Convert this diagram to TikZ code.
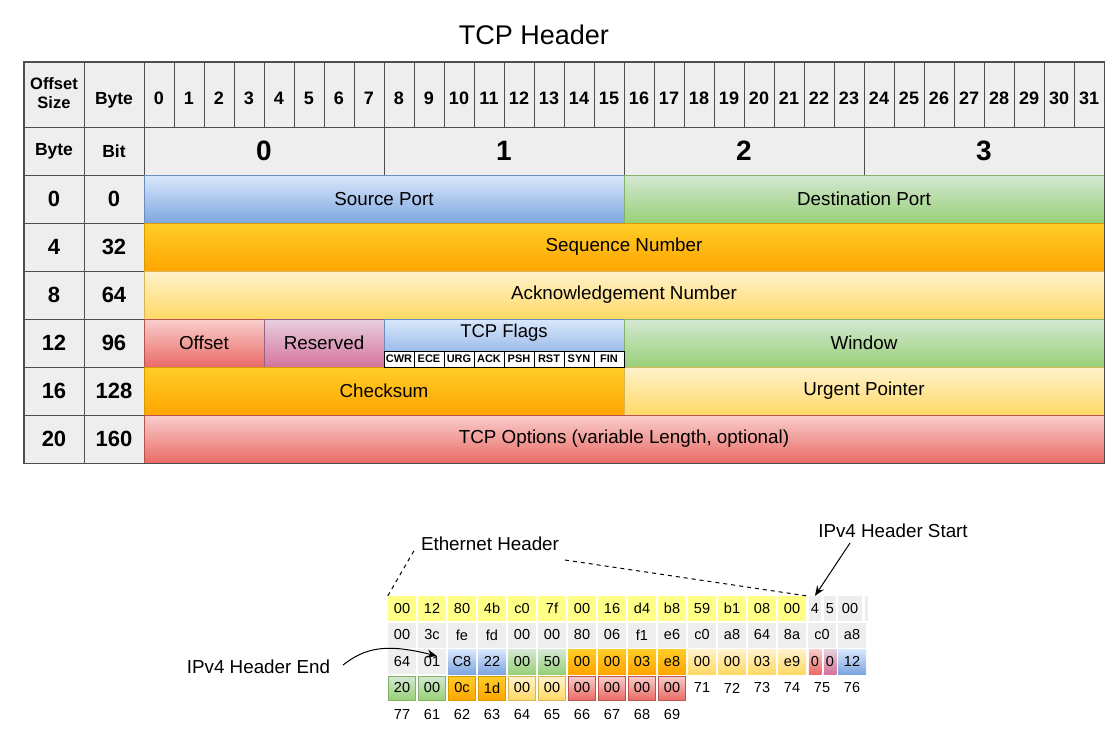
\documentclass[tikz,border=0pt]{standalone}
\usepackage{fontspec}
\setmainfont{Liberation Sans}
\usetikzlibrary{arrows.meta}
\definecolor{hdrg}{HTML}{EEEEEE}
\definecolor{lineg}{HTML}{4D4D4D}
\definecolor{blueT}{HTML}{DAE8FC}\definecolor{blueB}{HTML}{7EA6E0}\definecolor{blueL}{HTML}{6C8EBF}
\definecolor{greenT}{HTML}{D5E8D4}\definecolor{greenB}{HTML}{97D077}\definecolor{greenL}{HTML}{82B366}
\definecolor{orT}{HTML}{FFCD28}\definecolor{orB}{HTML}{FFA500}\definecolor{orL}{HTML}{D79B00}
\definecolor{ylT}{HTML}{FFF2CC}\definecolor{ylB}{HTML}{FFD966}\definecolor{ylL}{HTML}{D6B656}
\definecolor{rdT}{HTML}{F8CECC}\definecolor{rdB}{HTML}{EA6B66}\definecolor{rdL}{HTML}{B85450}
\definecolor{pkT}{HTML}{E6D0DE}\definecolor{pkB}{HTML}{D5739D}\definecolor{pkL}{HTML}{996185}
\definecolor{hexy}{HTML}{FFFF88}
\newcommand\cellbox[7]{\node[#2, minimum width={(#5)-(#3)}, minimum height={(#6)-(#4)}] (#1) at ({((#3)+(#5))/2},{((#4)+(#6))/2}) {#7};}
\newcommand\hexc[5]{\node[hx,#2] (#1) at ({402+30*(#3)},{608.5+26.5*((#4)-1)}) {#5};}
\begin{document}
\begin{tikzpicture}[x=1pt,y=-1pt,
  hdr/.style={draw=lineg, fill=hdrg, line width=0.9pt, inner sep=0pt, font=\bfseries\fontsize{17.5}{20}\selectfont},
  toprow/.style={text height=19pt, text depth=0pt},
  bitn/.style={hdr, toprow, font=\bfseries\fontsize{18}{20}\selectfont},
  bign/.style={hdr, font=\bfseries\fontsize{28}{30}\selectfont},
  rowl/.style={hdr, font=\bfseries\fontsize{22}{26}\selectfont},
  fld/.style={line width=1pt, inner sep=0pt, font=\fontsize{18.8}{22}\selectfont},
  fblue/.style={fld, draw=blueL, top color=blueT, bottom color=blueB},
  fgreen/.style={fld, draw=greenL, top color=greenT, bottom color=greenB},
  forange/.style={fld, draw=orL, top color=orT, bottom color=orB},
  fyel/.style={fld, draw=ylL, top color=ylT, bottom color=ylB},
  fred/.style={fld, draw=rdL, top color=rdT, bottom color=rdB},
  fpink/.style={fld, draw=pkL, top color=pkT, bottom color=pkB},
  flag/.style={draw=black, fill=white, line width=1pt, inner sep=0pt, minimum width=30, minimum height=16, font=\bfseries\fontsize{11}{12}\selectfont},
  hx/.style={inner sep=0pt, minimum width=28, minimum height=25, font=\fontsize{14.5}{16}\selectfont},
  hgray/.style={fill=hdrg}, hyel/.style={fill=hexy},
  hblue/.style={top color=blueT, bottom color=blueB},
  hgreen/.style={top color=greenT, bottom color=greenB},
  horange/.style={top color=orT, bottom color=orB},
  hyl/.style={top color=ylT, bottom color=ylB},
  hred/.style={top color=rdT, bottom color=rdB},
  hpink/.style={top color=pkT, bottom color=pkB},
  bgreen/.style={hgreen, draw=greenL, minimum width=27, minimum height=24},
  borange/.style={horange, draw=orL, minimum width=27, minimum height=24},
  byl/.style={hyl, draw=ylL, minimum width=27, minimum height=24},
  bred/.style={hred, draw=rdL, minimum width=27, minimum height=24},
  lbl/.style={inner sep=0pt, font=\fontsize{18.8}{21}\selectfont},
  ethdash/.style={line width=1pt, dash pattern=on 4pt off 4pt},
  ptr/.style={line width=1pt, -{Stealth[length=10pt,width=8pt]}}
]
\useasboundingbox (0,0) rectangle (1114,736);
\node[inner sep=0pt, font=\fontsize{27}{30}\selectfont] (title) at (534,35) {TCP Header};
% header row
\cellbox{os}{hdr, font=\bfseries\fontsize{16.5}{20}\selectfont}{24}{62}{84}{127}{\raisebox{-3pt}{\begin{tabular}{@{}c@{}}Offset\\[-1pt]Size\end{tabular}}}
\cellbox{byteh}{hdr, toprow}{84}{62}{144}{127}{Byte}
\foreach \i in {0,...,31}{\cellbox{b\i}{bitn}{144+30*\i}{62}{174+30*\i}{127}{\i}}
% second row
\cellbox{byte}{hdr}{24}{127}{84}{175}{Byte}
\cellbox{bit}{hdr}{84}{127}{144}{175}{Bit}
\foreach \i in {0,...,3}{\cellbox{B\i}{bign}{144+240*\i}{127}{384+240*\i}{175}{\i}}
% row labels
\foreach \r/\a/\b in {0/0/0,1/4/32,2/8/64,3/12/96,4/16/128,5/20/160}{
  \cellbox{ra\r}{rowl}{24}{175+48*\r}{84}{223+48*\r}{\a}
  \cellbox{rb\r}{rowl}{84}{175+48*\r}{144}{223+48*\r}{\b}}
% fields
\cellbox{src}{fblue}{144}{175}{624}{223}{Source Port}
\cellbox{dst}{fgreen}{624}{175}{1104}{223}{Destination Port}
\cellbox{seq}{forange}{144}{223}{1104}{271}{Sequence Number}
\cellbox{ack}{fyel}{144}{271}{1104}{319}{Acknowledgement Number}
\cellbox{off}{fred}{144}{319}{264}{367}{Offset}
\cellbox{res}{fpink}{264}{319}{384}{367}{Reserved}
\cellbox{flags}{fblue}{384}{319}{624}{367}{}
\cellbox{win}{fgreen}{624}{319}{1104}{367}{Window}
\cellbox{chk}{forange}{144}{367}{624}{415}{Checksum}
\cellbox{urg}{fyel}{624}{367}{1104}{415}{Urgent Pointer}
\cellbox{opt}{fred}{144}{415}{1104}{463}{TCP Options (variable Length, optional)}
\node[inner sep=0pt, font=\fontsize{18.5}{21}\selectfont] (flagslbl) at (504,333) {TCP Flags};
\foreach \k/\f in {0/CWR,1/ECE,2/URG,3/ACK,4/PSH,5/RST,6/SYN,7/FIN}{
  \node[flag] (fl\k) at ({399+30*\k},359) {\f};}
\draw[draw=lineg, line width=1.5pt] (os.north west) rectangle (opt.south east);
% hex dump
\foreach \c/\t in {0/00,1/12,2/80,3/4b,4/c0,5/7f,6/00,7/16,8/d4,9/b8,10/59,11/b1,12/08,13/00}{\hexc{h1c\c}{hyel}{\c}{1}{\t}}
\node[hx, hgray, minimum width=12.5] (h1c14a) at (815,608.5) {4};
\node[hx, hgray, minimum width=12.5] (h1c14b) at (830,608.5) {5};
\node[hx, hgray, minimum width=24] (h1c15) at (850,608.5) {00};
\node[hx, hgray, minimum width=3] (h1c16) at (866,608.5) {};
\foreach \c/\t in {0/00,1/3c,2/fe,3/fd,4/00,5/00,6/80,7/06,8/f1,9/e6,10/c0,11/a8,12/64,13/8a,14/c0,15/a8}{\hexc{h2c\c}{hgray}{\c}{2}{\t}}
\foreach \c/\t/\s in {0/64/hgray,1/01/hgray,2/C8/hblue,3/22/hblue,4/00/hgreen,5/50/hgreen,6/00/horange,7/00/horange,8/03/horange,9/e8/horange,10/00/hyl,11/00/hyl,12/03/hyl,13/e9/hyl,15/12/hblue}{\hexc{h3c\c}{\s}{\c}{3}{\t}}
\node[hx, hred, minimum width=12.5] (h3c14a) at (815,661.5) {0};
\node[hx, hpink, minimum width=12.5] (h3c14b) at (830,661.5) {0};
\foreach \c/\t/\s in {0/20/bgreen,1/00/bgreen,2/0c/borange,3/1d/borange,4/00/byl,5/00/byl,6/00/bred,7/00/bred,8/00/bred,9/00/bred,10/71/{},11/72/{},12/73/{},13/74/{},14/75/{},15/76/{}}{\hexc{h4c\c}{\s}{\c}{4}{\t}}
\foreach \c/\t in {0/77,1/61,2/62,3/63,4/64,5/65,6/66,7/67,8/68,9/69}{\node[hx] (h5c\c) at ({402+30*\c},715) {\t};}
% labels and connectors
\node[lbl] (eth) at (490,544) {Ethernet Header};
\node[lbl] (ipst) at (893,531) {IPv4 Header Start};
\node[lbl] (ipend) at (258.5,667) {IPv4 Header End};
\coordinate (ethA) at (415,549);
\coordinate (ethB) at (565,560);
\coordinate (ipsA) at (850,543);
\coordinate (ipeA) at (343,665);
\coordinate (ipeB) at (437,656);
\draw[ethdash] (h1c0.north west) -- (ethA);
\draw[ethdash] (ethB) -- (h1c13.north east);
\draw[ptr] (ipsA) -- (h1c14a.north);
\draw[ptr] (ipeA) .. controls (365,648) and (385,643) .. (ipeB);
\end{tikzpicture}
\end{document}
